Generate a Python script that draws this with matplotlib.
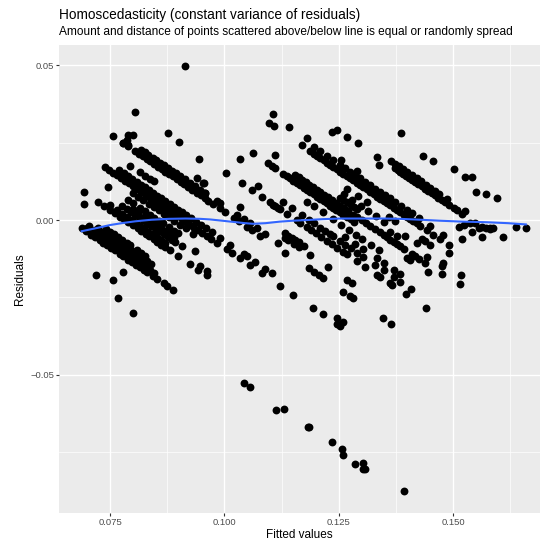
import numpy as np
import matplotlib
matplotlib.use("Agg")
import matplotlib.pyplot as plt

# isolated points: (fitted, residual)
iso_fitted = [0.0914, 0.0805, 0.0756, 0.0790, 0.0801, 0.0779, 0.0790, 0.0786, 0.0877, 0.0901,
              0.0945, 0.1107, 0.1098, 0.1109, 0.1141, 0.1235, 0.1246, 0.1268, 0.1180, 0.1169,
              0.1063, 0.1033, 0.1111, 0.1291, 0.1386, 0.1434, 0.1457, 0.1502, 0.1526, 0.1541,
              0.1550, 0.1572, 0.1597, 0.1334, 0.1339,
              0.0692, 0.0693, 0.0746, 0.0940, 0.0954, 0.0954, 0.1004, 0.0956, 0.0958,
              0.0719, 0.0757, 0.0778, 0.0768, 0.0801, 0.1043, 0.1055, 0.1112, 0.1131, 0.1182,
              0.1186, 0.1235, 0.1257, 0.1259, 0.1286, 0.1302, 0.1304, 0.1308, 0.1393,
              0.1512, 0.1523, 0.1537, 0.1548, 0.1563, 0.1581, 0.1588, 0.1541, 0.1519, 0.1563,
              0.1610, 0.1638, 0.1659, 0.1490, 0.1478, 0.1517, 0.1515, 0.1557, 0.1572, 0.1580]
iso_resid = [0.0498, 0.0350, 0.0271, 0.0275, 0.0275, 0.0250, 0.0242, 0.0259, 0.0282, 0.0253,
             0.0199, 0.0343, 0.0313, 0.0304, 0.0302, 0.0285, 0.0291, 0.0269, 0.0264, 0.0242,
             0.0218, 0.0199, 0.0210, 0.0248, 0.0280, 0.0208, 0.0191, 0.0166, 0.0140, 0.0140,
             0.0092, 0.0083, 0.0070, 0.0205, 0.0178,
             0.0092, 0.0052, 0.0108, 0.0135, 0.0119, 0.0086, 0.0153, 0.0119, 0.0086,
             -0.0179, -0.0194, -0.0168, -0.0253, -0.0302, -0.0528, -0.0539, -0.0614, -0.0612, -0.0668,
             -0.0670, -0.0717, -0.0740, -0.0761, -0.0789, -0.0784, -0.0806, -0.0805, -0.0876,
             -0.0022, -0.0016, -0.0009, -0.0009, -0.0022, -0.0027, -0.0027, -0.0038, -0.0061, -0.0056,
             -0.0056, -0.0022, -0.0027, -0.0106, -0.0140, -0.0178, -0.0208, -0.0024, -0.0024, -0.0029]

# diagonal bands: points sharing one observed value (residual = observed - fitted)
band_obs = [0.0662, 0.0674, 0.0686, 0.0698, 0.0712, 0.0783, 0.0797, 0.0822, 0.0835,
            0.0855, 0.0888, 0.0910, 0.0932, 0.0970, 0.1028, 0.1045, 0.1075, 0.1090,
            0.1157, 0.1185, 0.1210, 0.1240, 0.1278, 0.1300, 0.1325, 0.1345,
            0.1410, 0.1432, 0.1370, 0.1448, 0.1540, 0.1555]
band_fitted = [
    [0.0688, 0.0697, 0.0709, 0.0716, 0.0728, 0.0735, 0.0744, 0.0753, 0.0760, 0.0771, 0.0779,
     0.0790, 0.0798, 0.0806, 0.0815, 0.0824, 0.0831, 0.0843, 0.0852, 0.0867, 0.0874, 0.0888],
    [0.0699, 0.0706, 0.0720, 0.0731, 0.0739, 0.0748, 0.0757, 0.0766, 0.0775, 0.0784, 0.0794,
     0.0802, 0.0811, 0.0819, 0.0828, 0.0837, 0.0846],
    [0.0705, 0.0718, 0.0730, 0.0742, 0.0755, 0.0764, 0.0776, 0.0789, 0.0800, 0.0812, 0.0821,
     0.0834],
    [0.0724, 0.0735, 0.0743, 0.0752, 0.0761, 0.0770, 0.0779, 0.0787, 0.0796, 0.0805, 0.0816,
     0.0823, 0.0830, 0.0840],
    [0.0741, 0.0750, 0.0758, 0.0767, 0.0777, 0.0786, 0.0794, 0.0808, 0.0818, 0.0827],
    [0.0724, 0.0736, 0.0750, 0.0760, 0.0772, 0.0781, 0.0790, 0.0800, 0.0810, 0.0818, 0.0828,
     0.0836, 0.0845, 0.0853, 0.0862, 0.0871, 0.0880, 0.0899, 0.0925, 0.0943, 0.0962],
    [0.0749, 0.0765, 0.0777, 0.0788, 0.0797, 0.0806, 0.0815, 0.0824, 0.0834, 0.0843, 0.0852,
     0.0861, 0.0870, 0.0947, 0.0963],
    [0.0775, 0.0786, 0.0795, 0.0804, 0.0813, 0.0822, 0.0831, 0.0840, 0.0849, 0.0858, 0.0867,
     0.0876, 0.0885, 0.0893, 0.0907],
    [0.0800, 0.0812, 0.0824, 0.0833, 0.0843, 0.0852, 0.0862, 0.0871, 0.0880, 0.0889, 0.0936],
    [0.0790, 0.0801, 0.0815, 0.0826, 0.0838, 0.0847, 0.0858, 0.0866, 0.0878, 0.0889, 0.0898],
    [0.0800, 0.0812, 0.0823, 0.0836, 0.0847, 0.0856, 0.0867, 0.0879, 0.0890, 0.0903, 0.0915,
     0.0932],
    [0.0739, 0.0748, 0.0757, 0.0765, 0.0774, 0.0783, 0.0791, 0.0800, 0.0809, 0.0818, 0.0826,
     0.0836, 0.0845, 0.0854, 0.0862, 0.0871, 0.0880, 0.0889, 0.0898, 0.0907, 0.0916, 0.0925,
     0.0934, 0.0943, 0.0952, 0.0961, 0.0970, 0.0984, 0.1005, 0.1016, 0.1034, 0.1056, 0.1082,
     0.1122, 0.1151, 0.1194, 0.1215, 0.1247, 0.1253],
    [0.0770, 0.0781, 0.0790, 0.0799, 0.0808, 0.0817, 0.0826, 0.0835, 0.0844, 0.0853, 0.0862,
     0.0871, 0.0880, 0.0889, 0.0898, 0.0907, 0.0917, 0.0926, 0.0938, 0.0948, 0.0959, 0.0972,
     0.0991, 0.1012, 0.1042, 0.1049, 0.1067, 0.1089, 0.1104, 0.1247, 0.1260],
    [0.0794, 0.0816, 0.0826, 0.0837, 0.0845],
    [0.0779, 0.0790, 0.0805, 0.0813, 0.0822, 0.0830, 0.0838, 0.0846, 0.0855, 0.0863, 0.0871,
     0.0879, 0.0887, 0.0896, 0.0904, 0.0912, 0.0921, 0.0930, 0.0939, 0.0948, 0.0957, 0.0965,
     0.0976, 0.0990, 0.1002, 0.1020, 0.1031, 0.1049, 0.1060, 0.1078, 0.1133, 0.1184, 0.1195,
     0.1206, 0.1215, 0.1260, 0.1275, 0.1281, 0.1346, 0.1364],
    [0.0817, 0.0826, 0.0834, 0.0843, 0.0851, 0.0860, 0.0868, 0.0877, 0.0885, 0.0894, 0.0903,
     0.0913, 0.0924, 0.0935, 0.0947, 0.0958, 0.0983, 0.0991, 0.1027, 0.1042, 0.1056, 0.1071,
     0.1089, 0.1118],
    [0.1034, 0.1133, 0.1140, 0.1153, 0.1162, 0.1187, 0.1226, 0.1268, 0.1279],
    [0.1133, 0.1140, 0.1147, 0.1155, 0.1162, 0.1175],
    [0.1038, 0.1060, 0.1082, 0.1100, 0.1107, 0.1111, 0.1118, 0.1122, 0.1136, 0.1158, 0.1166,
     0.1180, 0.1190, 0.1200, 0.1212, 0.1224, 0.1235, 0.1246, 0.1260, 0.1268, 0.1290, 0.1308,
     0.1333, 0.1340, 0.1362, 0.1366, 0.1397, 0.1441],
    [0.1074, 0.1128, 0.1147, 0.1170, 0.1184, 0.1195, 0.1209, 0.1220, 0.1230, 0.1238, 0.1252,
     0.1264, 0.1276, 0.1290, 0.1304, 0.1330, 0.1348, 0.1370, 0.1384, 0.1408],
    [0.1264, 0.1286, 0.1304, 0.1333, 0.1348, 0.1370, 0.1384],
    [0.1180, 0.1195, 0.1215, 0.1238, 0.1256, 0.1272, 0.1288, 0.1300, 0.1320, 0.1338],
    [0.1095, 0.1104, 0.1111, 0.1129, 0.1136, 0.1143, 0.1151, 0.1158, 0.1166, 0.1173, 0.1180,
     0.1188, 0.1195, 0.1202, 0.1210, 0.1217, 0.1224, 0.1231, 0.1238, 0.1245, 0.1253, 0.1260,
     0.1268, 0.1276, 0.1284, 0.1399, 0.1406, 0.1446],
    [0.1155, 0.1162, 0.1170, 0.1178, 0.1186, 0.1194, 0.1202, 0.1210, 0.1218, 0.1226, 0.1235,
     0.1244, 0.1253, 0.1262, 0.1271, 0.1282, 0.1290, 0.1300, 0.1310, 0.1319, 0.1330, 0.1340,
     0.1348, 0.1356, 0.1363, 0.1370, 0.1378, 0.1384, 0.1392, 0.1410, 0.1417, 0.1425, 0.1439,
     0.1475],
    [0.1253, 0.1260, 0.1268, 0.1276, 0.1284, 0.1290, 0.1362, 0.1377, 0.1443, 0.1475],
    [0.1262, 0.1280, 0.1298, 0.1315, 0.1332, 0.1350, 0.1395, 0.1420],
    [0.1187, 0.1195, 0.1202, 0.1209, 0.1217, 0.1224, 0.1231, 0.1238, 0.1246, 0.1253, 0.1260,
     0.1268, 0.1275, 0.1282, 0.1290, 0.1297, 0.1304, 0.1311, 0.1319, 0.1326, 0.1334, 0.1341,
     0.1348, 0.1355, 0.1362, 0.1370, 0.1377, 0.1384, 0.1392, 0.1399, 0.1406, 0.1413, 0.1421,
     0.1428, 0.1443, 0.1457, 0.1472, 0.1490],
    [0.1195, 0.1209, 0.1224, 0.1238, 0.1253, 0.1264, 0.1275, 0.1286, 0.1297, 0.1308, 0.1319,
     0.1330, 0.1340, 0.1351, 0.1362, 0.1373, 0.1386, 0.1399, 0.1410, 0.1426, 0.1450, 0.1479],
    [0.1268, 0.1293, 0.1311, 0.1359, 0.1373, 0.1432, 0.1450, 0.1439],
    [0.1254, 0.1290],
    [0.1373, 0.1379, 0.1384, 0.1390, 0.1397, 0.1403, 0.1410, 0.1417, 0.1424, 0.1431, 0.1438,
     0.1446, 0.1453, 0.1460, 0.1468, 0.1475, 0.1483, 0.1490, 0.1501, 0.1508, 0.1519],
    [0.1365, 0.1373, 0.1381, 0.1390, 0.1400, 0.1410, 0.1420, 0.1430, 0.1440, 0.1450, 0.1460,
     0.1470, 0.1486, 0.1526],
]

# smoothed trend line
smooth_x = [0.0688, 0.0720, 0.0750, 0.0780, 0.0805, 0.0840, 0.0878, 0.0915, 0.0947, 0.0969,
            0.0995, 0.1020, 0.1045, 0.1063, 0.1090, 0.1121, 0.1150, 0.1180, 0.1215, 0.1253,
            0.1300, 0.1350, 0.1384, 0.1430, 0.1470, 0.1520, 0.1574, 0.1620, 0.1659]
smooth_y = [-0.0036, -0.0026, -0.0016, -0.0009, -0.0004, 0.0001, 0.0004, 0.0005, 0.0004, 0.0002,
            -0.0002, -0.0006, -0.0010, -0.0012, -0.0010, -0.0005, -0.0002, 0.0000, 0.0003, 0.0005,
            0.0005, 0.0005, 0.0004, 0.0001, -0.0002, -0.0005, -0.0007, -0.0010, -0.0014]

fitted = list(iso_fitted)
resid = list(iso_resid)
for obs, fs in zip(band_obs, band_fitted):
    for f in fs:
        fitted.append(f)
        resid.append(obs - f)
fitted = np.array(fitted)
resid = np.array(resid)

plt.rcParams['font.family'] = ['Liberation Sans', 'DejaVu Sans']

W, H = 545, 542
fig = plt.figure(figsize=(W / 100, H / 100), dpi=100)
left, right, top, bottom = 59.3, 540, 45, 512.7
ax = fig.add_axes([left / W, 1 - bottom / H, (right - left) / W, (bottom - top) / H])
ax.set_facecolor('#EBEBEB')
for s in ax.spines.values():
    s.set_visible(False)

ax.scatter(fitted, resid, s=32, c='black', linewidths=0, zorder=2)
ax.plot(smooth_x, smooth_y, color='#3366FF', lw=1.5, zorder=3)

ax.set_xlim(0.0639, 0.1690)
ax.set_ylim(-0.0946, 0.0566)
ax.set_xticks([0.075, 0.100, 0.125, 0.150])
ax.set_xticklabels(['0.075', '0.100', '0.125', '0.150'])
ax.set_xticks([0.0875, 0.1125, 0.1375, 0.1625], minor=True)
ax.set_yticks([-0.05, 0.0, 0.05])
ax.set_yticklabels(['\u22120.05', '0.00', '0.05'])
ax.set_yticks([-0.075, -0.025, 0.025], minor=True)
ax.grid(which='major', color='white', lw=1.0)
ax.grid(which='minor', color='white', lw=0.5)
ax.set_axisbelow(True)
ax.tick_params(which='major', length=2.2, width=0.8, color='#333333',
               labelcolor='#4D4D4D', labelsize=6.8, pad=1.5)
ax.tick_params(which='minor', length=0)

ax.set_xlabel('Fitted values', fontsize=8.5, va='center')
ax.xaxis.set_label_coords(0.5, (bottom - 535) / (bottom - top))
ax.set_ylabel('Residuals', fontsize=8.5, va='center')
ax.yaxis.set_label_coords((20 - left) / (right - left), 0.5)

fig.text(left / W, 1 - 15 / H, 'Homoscedasticity (constant variance of residuals)',
         fontsize=9.8, va='center', ha='left')
fig.text(left / W, 1 - 32 / H,
         'Amount and distance of points scattered above/below line is equal or randomly spread',
         fontsize=8.6, va='center', ha='left')

fig.savefig('out.png', dpi=100)
